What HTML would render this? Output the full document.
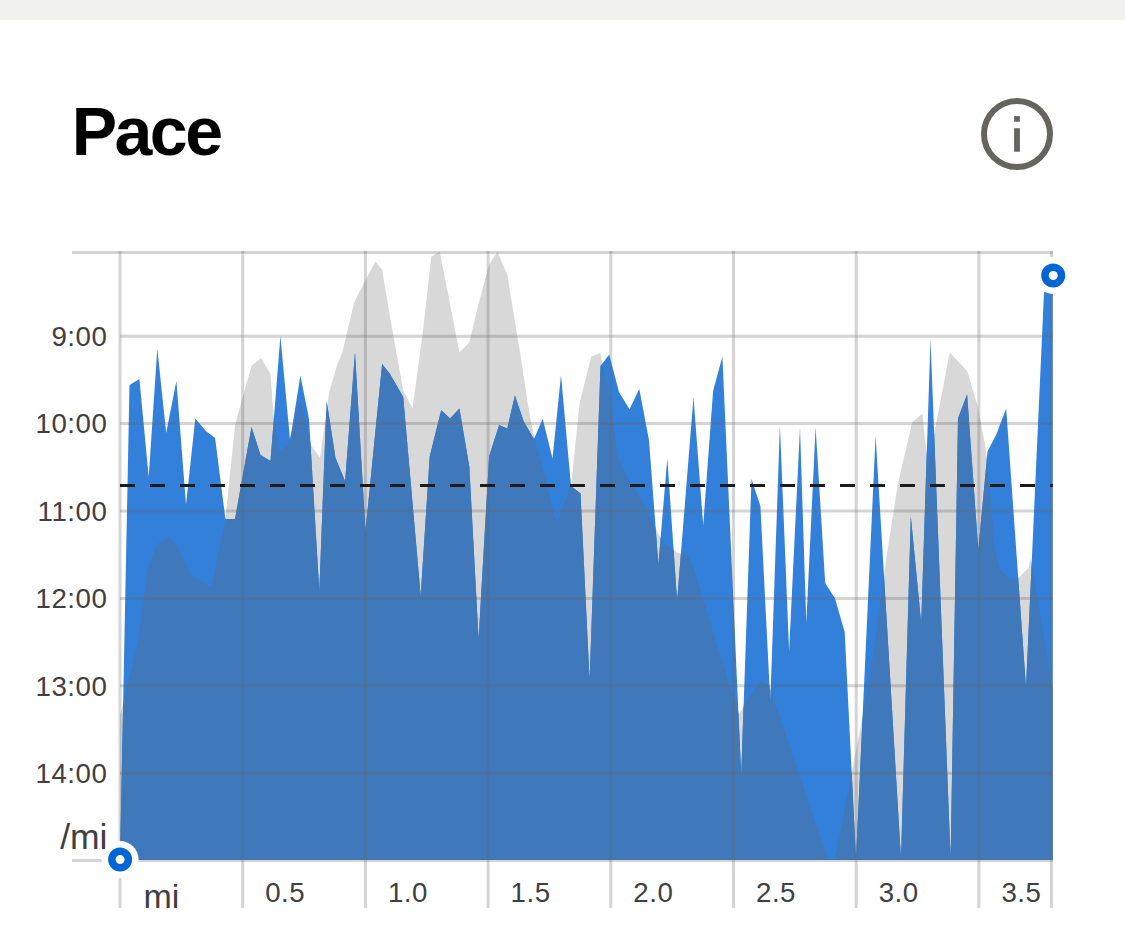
<!DOCTYPE html>
<html><head><meta charset="utf-8"><style>
html,body{margin:0;padding:0;background:#fff;width:1125px;height:938px;overflow:hidden}
svg{display:block}
.title{font-family:"Liberation Sans",sans-serif;font-weight:bold;font-size:68px;fill:#000;letter-spacing:-2.5px}
.ax{font-family:"Liberation Sans",sans-serif;font-size:27.7px;fill:#404040;letter-spacing:0.5px}
.mi2{font-family:"Liberation Sans",sans-serif;font-size:35.5px;fill:#404040}
.mi{font-family:"Liberation Sans",sans-serif;font-size:34px;fill:#404040}
</style></head><body>
<svg width="1125" height="938" viewBox="0 0 1125 938">
<defs><clipPath id="gc"><polygon points="120,860 120,715 123.5,702.5 137.4,644 147.5,570.4 156.4,544.7 167.6,536.9 175.4,542.5 191.1,574.9 201.2,581.2 211.3,587.2 225.4,519 235,425.6 241.8,400 251.6,365.7 261,358 270.5,374.1 274,420 279,450.9 287.6,445.8 300.4,400 311.5,445.8 320,457.7 329.2,392 337,365.6 342,353.6 354,302.9 365.6,279.7 375.5,261.6 382.1,269.8 390,317 403.2,390.4 412.5,408.6 423,331 431.3,256.6 439.6,251.6 449.5,301.2 459.4,352.4 469.3,342.5 479.2,301.2 489.1,264.8 497.4,251.6 507.3,274.7 521.4,361.3 527.8,404 534.2,438.1 540.6,459.4 549.1,493.5 554.4,517 557.6,521.2 561.9,508.4 571,486 579.7,402.6 591.2,356.4 600.2,353 610.5,400 618,458 628.4,478.4 641.2,498.9 656.5,530 663.1,542.3 676.4,552.2 687.9,555.5 692.9,565.4 706.1,608.4 719.3,651.3 732.5,694.3 739.1,714.1 750,695 761,680.6 769.3,685.6 828,859 835,859 854.5,758 869.4,682 886,560 897.7,485 912.2,422.1 922.4,413.6 928,465 934.4,432.4 949.7,352.2 967.3,371.3 978,407.3 986,450 990.9,500 994.4,546.9 999.1,568 1008.5,578.6 1016.7,579.7 1028.4,568 1030.7,558.6 1052.7,690 1052.7,860"/></clipPath></defs>
<rect x="0" y="0" width="1125" height="20" fill="#f1f1ef"/>
<text x="71.7" y="154.8" class="title">Pace</text>
<circle cx="1017" cy="134" r="33" fill="none" stroke="#65645f" stroke-width="6"/>
<rect x="1014.1" y="116.1" width="5.8" height="5.6" fill="#65645f"/>
<rect x="1014.1" y="128.2" width="5.8" height="23.5" fill="#65645f"/>
<polygon points="120,860 120,715 123.5,702.5 137.4,644 147.5,570.4 156.4,544.7 167.6,536.9 175.4,542.5 191.1,574.9 201.2,581.2 211.3,587.2 225.4,519 235,425.6 241.8,400 251.6,365.7 261,358 270.5,374.1 274,420 279,450.9 287.6,445.8 300.4,400 311.5,445.8 320,457.7 329.2,392 337,365.6 342,353.6 354,302.9 365.6,279.7 375.5,261.6 382.1,269.8 390,317 403.2,390.4 412.5,408.6 423,331 431.3,256.6 439.6,251.6 449.5,301.2 459.4,352.4 469.3,342.5 479.2,301.2 489.1,264.8 497.4,251.6 507.3,274.7 521.4,361.3 527.8,404 534.2,438.1 540.6,459.4 549.1,493.5 554.4,517 557.6,521.2 561.9,508.4 571,486 579.7,402.6 591.2,356.4 600.2,353 610.5,400 618,458 628.4,478.4 641.2,498.9 656.5,530 663.1,542.3 676.4,552.2 687.9,555.5 692.9,565.4 706.1,608.4 719.3,651.3 732.5,694.3 739.1,714.1 750,695 761,680.6 769.3,685.6 828,859 835,859 854.5,758 869.4,682 886,560 897.7,485 912.2,422.1 922.4,413.6 928,465 934.4,432.4 949.7,352.2 967.3,371.3 978,407.3 986,450 990.9,500 994.4,546.9 999.1,568 1008.5,578.6 1016.7,579.7 1028.4,568 1030.7,558.6 1052.7,690 1052.7,860" fill="#d8d8d8"/>
<polygon points="120,860 129.5,385 139.4,379 148.7,477 157.3,348.5 166.2,433 176.4,381 186,504.5 195.3,418.5 205.8,431 215.1,438 225.4,519 235,519 251.5,427 260.5,455 270.5,461 280.4,336 290.1,440.6 300.4,375.6 309,419 319.3,591 326.6,400.5 335.5,458 345.1,481.3 355,352.4 365.5,531 382.1,364 390,373.9 403.2,397 420.7,596 429.7,456.5 441.2,410.2 450.1,418.5 459.4,408.6 469.3,466.4 478.6,639 489.1,456.5 499.1,425.1 507.3,428.4 514.9,395.4 523.8,421.8 534,439 542.7,418.7 552.5,458.5 561,375 571,486 580.5,493.5 589.6,680.6 600.5,366 609.2,354.5 619,392 629.5,409.3 639.3,389 649,440.3 658.4,564.5 667.3,458.3 677.1,601 693.5,397 703.2,525.5 713.1,391.1 722.4,356.4 741.2,774.8 751.5,479 760.4,506 770.3,702 779.9,425.2 789.1,651 800,427.5 806.3,623 815.6,427.5 825.2,583 835,598.5 844.7,632 856,859 875.6,435.7 901,859 910.8,516.3 921.2,623 930.5,339 950.6,859 958,418.5 967.1,394.2 978.3,550 987.5,451.5 996.5,434 1006.2,408.6 1026,687.7 1044,293 1052.7,275.5 1052.7,860" fill="#3380da"/>
<polygon points="120,860 129.5,385 139.4,379 148.7,477 157.3,348.5 166.2,433 176.4,381 186,504.5 195.3,418.5 205.8,431 215.1,438 225.4,519 235,519 251.5,427 260.5,455 270.5,461 280.4,336 290.1,440.6 300.4,375.6 309,419 319.3,591 326.6,400.5 335.5,458 345.1,481.3 355,352.4 365.5,531 382.1,364 390,373.9 403.2,397 420.7,596 429.7,456.5 441.2,410.2 450.1,418.5 459.4,408.6 469.3,466.4 478.6,639 489.1,456.5 499.1,425.1 507.3,428.4 514.9,395.4 523.8,421.8 534,439 542.7,418.7 552.5,458.5 561,375 571,486 580.5,493.5 589.6,680.6 600.5,366 609.2,354.5 619,392 629.5,409.3 639.3,389 649,440.3 658.4,564.5 667.3,458.3 677.1,601 693.5,397 703.2,525.5 713.1,391.1 722.4,356.4 741.2,774.8 751.5,479 760.4,506 770.3,702 779.9,425.2 789.1,651 800,427.5 806.3,623 815.6,427.5 825.2,583 835,598.5 844.7,632 856,859 875.6,435.7 901,859 910.8,516.3 921.2,623 930.5,339 950.6,859 958,418.5 967.1,394.2 978.3,550 987.5,451.5 996.5,434 1006.2,408.6 1026,687.7 1044,293 1052.7,275.5 1052.7,860" fill="#3f79bb" clip-path="url(#gc)"/>
<g stroke="rgba(100,100,100,0.28)" stroke-width="3"><line x1="72" y1="252.5" x2="1052.8" y2="252.5" /><line x1="72" y1="860.5" x2="1052.8" y2="860.5" /><line x1="120" y1="336.2" x2="1052.8" y2="336.2" /><line x1="120" y1="423.6" x2="1052.8" y2="423.6" /><line x1="120" y1="511" x2="1052.8" y2="511" /><line x1="120" y1="598.4" x2="1052.8" y2="598.4" /><line x1="120" y1="685.8" x2="1052.8" y2="685.8" /><line x1="120" y1="773.2" x2="1052.8" y2="773.2" /><line x1="120.0" y1="251" x2="120.0" y2="908" /><line x1="242.7" y1="251" x2="242.7" y2="908" /><line x1="365.4" y1="251" x2="365.4" y2="908" /><line x1="488.1" y1="251" x2="488.1" y2="908" /><line x1="610.8" y1="251" x2="610.8" y2="908" /><line x1="733.5" y1="251" x2="733.5" y2="908" /><line x1="856.2" y1="251" x2="856.2" y2="908" /><line x1="978.9" y1="251" x2="978.9" y2="908" /><line x1="1051.5" y1="251" x2="1051.5" y2="908" /></g>
<line x1="120" y1="485.5" x2="1052.8" y2="485.5" stroke="#1c1c1c" stroke-width="3" stroke-dasharray="15 15"/>
<text x="107.3" y="345.9" text-anchor="end" class="ax">9:00</text><text x="107.3" y="433.3" text-anchor="end" class="ax">10:00</text><text x="107.3" y="520.7" text-anchor="end" class="ax">11:00</text><text x="107.3" y="608.1" text-anchor="end" class="ax">12:00</text><text x="107.3" y="695.5" text-anchor="end" class="ax">13:00</text><text x="107.3" y="782.9" text-anchor="end" class="ax">14:00</text>
<text x="107.5" y="849" text-anchor="end" class="mi2">/mi</text>
<text x="143.5" y="907.9" class="mi">mi</text>
<text x="285.2" y="902.3" text-anchor="middle" class="ax">0.5</text><text x="407.9" y="902.3" text-anchor="middle" class="ax">1.0</text><text x="530.6" y="902.3" text-anchor="middle" class="ax">1.5</text><text x="653.3" y="902.3" text-anchor="middle" class="ax">2.0</text><text x="776.0" y="902.3" text-anchor="middle" class="ax">2.5</text><text x="898.7" y="902.3" text-anchor="middle" class="ax">3.0</text><text x="1021.4" y="902.3" text-anchor="middle" class="ax">3.5</text>
<circle cx="120.1" cy="859.6" r="18.5" fill="#fff"/>
<circle cx="120.1" cy="859.6" r="12" fill="#0066d6"/>
<circle cx="120.1" cy="859.6" r="4.5" fill="#fff"/>
<circle cx="1053.2" cy="275.5" r="18.5" fill="#fff"/>
<circle cx="1053.2" cy="275.5" r="12" fill="#0066d6"/>
<circle cx="1053.2" cy="275.5" r="4.5" fill="#fff"/>
</svg>
</body></html>
